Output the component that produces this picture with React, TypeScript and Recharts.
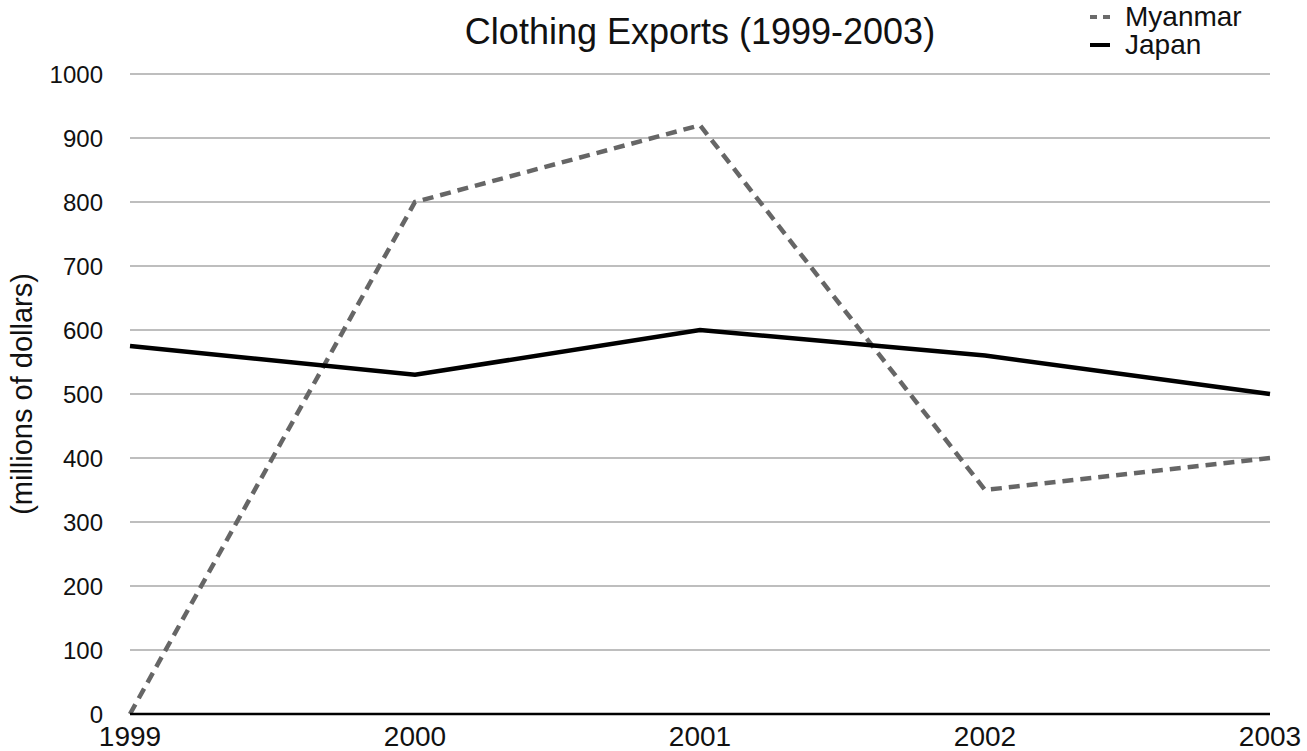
import { LineChart, Line, XAxis, YAxis, CartesianGrid } from 'recharts';

const years = ['1999', '2000', '2001', '2002', '2003'];
const myanmar = [0, 800, 920, 350, 400];
const japan = [575, 530, 600, 560, 500];
const yTicks = [0, 100, 200, 300, 400, 500, 600, 700, 800, 900, 1000];

const data = years.map((year, i) => ({
  year,
  Myanmar: myanmar[i],
  Japan: japan[i],
}));

const FONT = '"Liberation Sans", Arial, sans-serif';

function LegendBox() {
  return (
    <div
      style={{
        position: 'absolute',
        left: 1088,
        top: 3,
        fontFamily: FONT,
        fontSize: 28,
        color: '#111',
        lineHeight: '28px',
      }}
    >
      <div style={{ display: 'flex', alignItems: 'center' }}>
        <svg width={24} height={10} style={{ marginRight: 13 }}>
          <line x1={2} y1={5} x2={22} y2={5} stroke="#6b6b6b" strokeWidth={4} strokeDasharray="7 6" />
        </svg>
        Myanmar
      </div>
      <div style={{ display: 'flex', alignItems: 'center' }}>
        <svg width={24} height={10} style={{ marginRight: 13 }}>
          <line x1={2} y1={5} x2={22} y2={5} stroke="#000" strokeWidth={4} />
        </svg>
        Japan
      </div>
    </div>
  );
}

export default function App() {
  return (
    <div style={{ position: 'absolute', left: 0, top: 0, width: 1307, height: 751, background: '#fff' }}>
      <LineChart
        width={1307}
        height={751}
        data={data}
        margin={{ top: 74, right: 37, bottom: 0, left: 0 }}
      >
        <CartesianGrid vertical={false} stroke="#a8a8a8" strokeWidth={1.5} />
        <XAxis
          dataKey="year"
          height={37}
          tickLine={false}
          axisLine={{ stroke: '#000', strokeWidth: 2.5 }}
          tick={{ fill: '#111', fontSize: 28, fontFamily: FONT }}
          tickMargin={6}
          interval={0}
        />
        <YAxis
          width={130}
          domain={[0, 1000]}
          ticks={yTicks}
          tickLine={false}
          axisLine={false}
          tick={{ fill: '#111', fontSize: 24, fontFamily: FONT }}
          tickMargin={21}
          label={{
            value: '(millions of dollars)',
            angle: -90,
            position: 'center',
            dx: -43,
            style: { fill: '#111', fontSize: 29, fontFamily: FONT },
          }}
        />
        <Line
          dataKey="Myanmar"
          stroke="#666"
          strokeWidth={4.5}
          strokeDasharray="11 7"
          dot={false}
          isAnimationActive={false}
        />
        <Line
          dataKey="Japan"
          stroke="#000"
          strokeWidth={4.5}
          dot={false}
          isAnimationActive={false}
        />
      </LineChart>
      <div
        style={{
          position: 'absolute',
          left: 130,
          width: 1140,
          top: 11,
          textAlign: 'center',
          fontFamily: FONT,
          fontSize: 36,
          color: '#111',
        }}
      >
        Clothing Exports (1999-2003)
      </div>
      <LegendBox />
    </div>
  );
}
